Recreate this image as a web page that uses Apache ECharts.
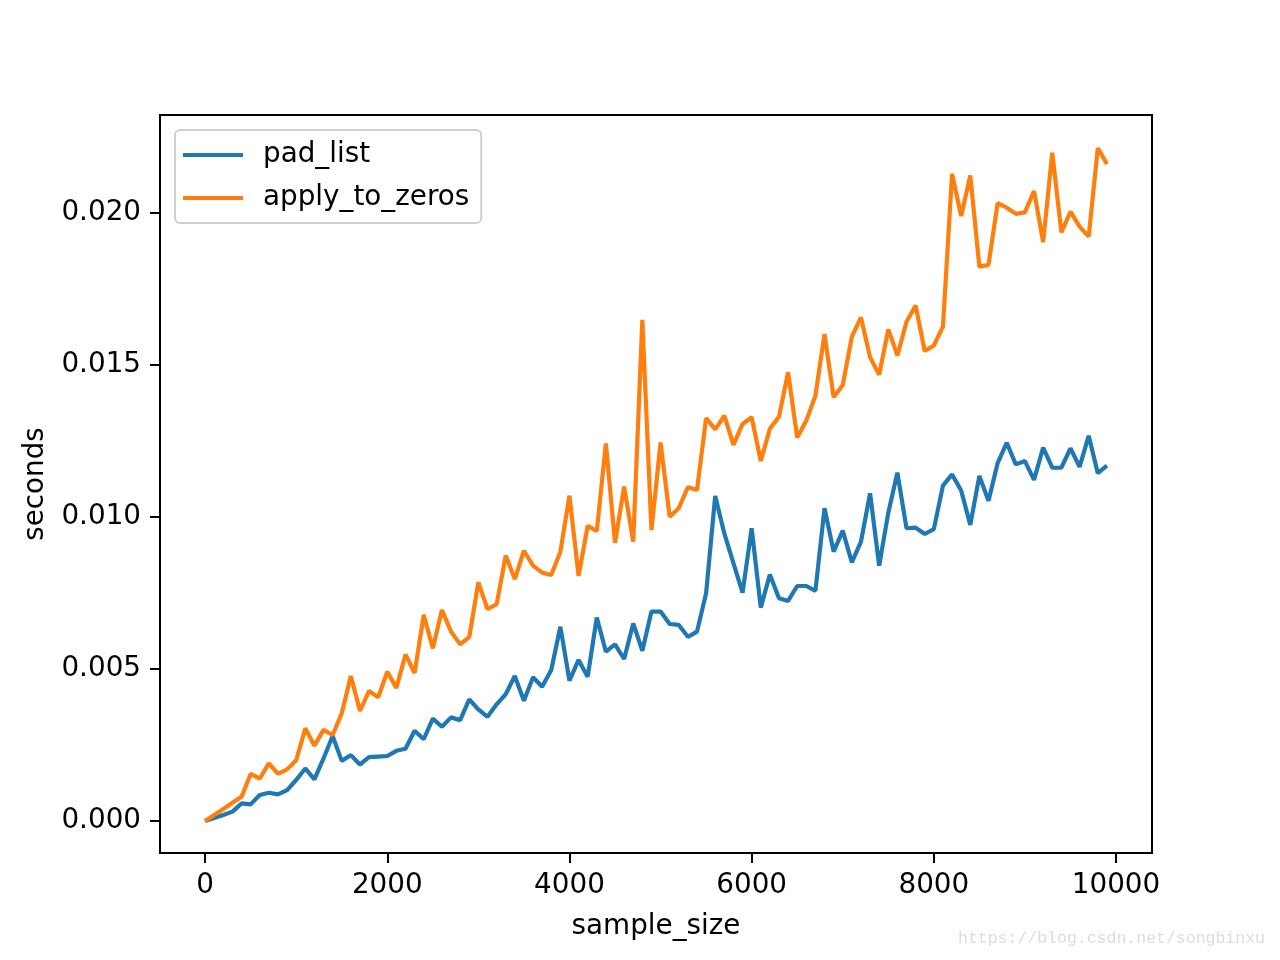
<!DOCTYPE html>
<html>
<head>
<meta charset="utf-8">
<script src="https://cdn.jsdelivr.net/npm/echarts@6/dist/echarts.min.js"></script>
<style>
  html, body { margin: 0; padding: 0; background: #fff; }
  #chart { width: 1280px; height: 960px; }
</style>
</head>
<body>
<div id="chart"></div>
<script>
// sample sizes (x)
const sampleSizes = [
  0, 100, 200, 300, 400, 500, 600, 700, 800, 900,
  1000, 1100, 1200, 1300, 1400, 1500, 1600, 1700, 1800, 1900,
  2000, 2100, 2200, 2300, 2400, 2500, 2600, 2700, 2800, 2900,
  3000, 3100, 3200, 3300, 3400, 3500, 3600, 3700, 3800, 3900,
  4000, 4100, 4200, 4300, 4400, 4500, 4600, 4700, 4800, 4900,
  5000, 5100, 5200, 5300, 5400, 5500, 5600, 5700, 5800, 5900,
  6000, 6100, 6200, 6300, 6400, 6500, 6600, 6700, 6800, 6900,
  7000, 7100, 7200, 7300, 7400, 7500, 7600, 7700, 7800, 7900,
  8000, 8100, 8200, 8300, 8400, 8500, 8600, 8700, 8800, 8900,
  9000, 9100, 9200, 9300, 9400, 9500, 9600, 9700, 9800, 9900
];

// pad_list timings (seconds)
const padList = [
  0.0000, 0.0001, 0.0002, 0.00031, 0.00058, 0.00055, 0.00086, 0.00093, 0.00088, 0.00102,
  0.00135, 0.00173, 0.00137, 0.00206, 0.0028, 0.00198, 0.00217, 0.00186, 0.0021, 0.00212,
  0.00214, 0.00231, 0.00238, 0.00297, 0.00269, 0.00337, 0.0031, 0.00341, 0.00332, 0.004,
  0.00367, 0.00343, 0.00384, 0.00417, 0.00477, 0.00396, 0.00473, 0.00442, 0.00497, 0.00639,
  0.00462, 0.0053, 0.00475, 0.00669, 0.00557, 0.00581, 0.00533, 0.0065, 0.0056, 0.00689,
  0.00689, 0.00648, 0.00645, 0.00606, 0.00623, 0.00749, 0.01069, 0.00946, 0.00848, 0.00751,
  0.00963, 0.00702, 0.00811, 0.00733, 0.00724, 0.00773, 0.00773, 0.00757, 0.01029, 0.00886,
  0.00955, 0.00851, 0.00919, 0.01078, 0.0084, 0.01014, 0.01146, 0.00963, 0.00965, 0.00944,
  0.0096, 0.01103, 0.0114, 0.01087, 0.00974, 0.01135, 0.01053, 0.01177, 0.01244, 0.01173,
  0.01184, 0.01122, 0.01228, 0.01162, 0.01162, 0.01226, 0.01165, 0.01267, 0.01144, 0.01169
];

// apply_to_zeros timings (seconds)
const applyToZeros = [
  0.0000, 0.0002, 0.0004, 0.0006, 0.0008, 0.00155, 0.0014, 0.0019, 0.00155, 0.0017,
  0.002, 0.00305, 0.00248, 0.003, 0.00283, 0.00354, 0.00477, 0.00362, 0.00428, 0.00407,
  0.00491, 0.00438, 0.00548, 0.00487, 0.00678, 0.00568, 0.00694, 0.00623, 0.00581, 0.00606,
  0.00785, 0.00697, 0.00713, 0.00873, 0.00796, 0.00889, 0.0084, 0.00817, 0.00809, 0.00886,
  0.0107, 0.00806, 0.00971, 0.00954, 0.01242, 0.00915, 0.011, 0.00919, 0.01648, 0.00957,
  0.01245, 0.01001, 0.01029, 0.01098, 0.01089, 0.01325, 0.01288, 0.01333, 0.01237, 0.01306,
  0.01328, 0.01184, 0.0129, 0.0133, 0.01476, 0.01261, 0.01317, 0.01399, 0.01602, 0.01394,
  0.01434, 0.01593, 0.01656, 0.01525, 0.01468, 0.01617, 0.01531, 0.01642, 0.01695, 0.01546,
  0.01564, 0.01626, 0.02128, 0.0199, 0.02123, 0.01823, 0.01829, 0.02032, 0.02017, 0.01997,
  0.02002, 0.02072, 0.01904, 0.02198, 0.01936, 0.02004, 0.01955, 0.01922, 0.02213, 0.02161
];

// tick labels
const xTicks = [0, 2000, 4000, 6000, 8000, 10000];
const yTicks = [0, 0.005, 0.010, 0.015, 0.020];

const font = 'DejaVu Sans';
const fs = 27.8;

const chart = echarts.init(document.getElementById('chart'));

const option = {
  animation: false,
  backgroundColor: '#fff',
  textStyle: { fontFamily: font },
  grid: {
    left: 160, right: 128, top: 115, bottom: 107,
    show: true, borderColor: '#000', borderWidth: 2, backgroundColor: 'transparent'
  },
  legend: {
    orient: 'vertical',
    left: 175, top: 130,
    padding: [10, 12, 10, 8],
    itemGap: 13,
    itemWidth: 60, itemHeight: 4,
    icon: 'rect',
    backgroundColor: '#fff',
    borderColor: '#d0d0d0', borderWidth: 2, borderRadius: 5,
    textStyle: { fontFamily: font, fontSize: fs, color: '#000', lineHeight: 30, padding: [0, 0, 0, 15] },
    data: ['pad_list', 'apply_to_zeros']
  },
  xAxis: {
    type: 'value',
    min: -495, max: 10395,
    name: 'sample_size',
    nameLocation: 'middle',
    nameGap: 60,
    nameTextStyle: { fontFamily: font, fontSize: fs, color: '#000' },
    axisLine: { show: true, onZero: false, lineStyle: { color: '#000', width: 2 } },
    axisTick: { show: true, inside: false, length: 10, lineStyle: { color: '#000', width: 2 }, customValues: xTicks },
    axisLabel: {
      fontFamily: font, fontSize: fs, color: '#000', margin: 19, customValues: xTicks,
      formatter: v => String(v)
    },
    splitLine: { show: false }
  },
  yAxis: {
    type: 'value',
    min: -0.00105, max: 0.02322,
    name: 'seconds',
    nameLocation: 'middle',
    nameGap: 110,
    nameRotate: 90,
    nameTextStyle: { fontFamily: font, fontSize: fs, color: '#000' },
    axisLine: { show: true, onZero: false, lineStyle: { color: '#000', width: 2 } },
    axisTick: { show: true, inside: false, length: 10, lineStyle: { color: '#000', width: 2 }, customValues: yTicks },
    axisLabel: {
      fontFamily: font, fontSize: fs, color: '#000', margin: 19, customValues: yTicks,
      formatter: v => v.toFixed(3)
    },
    splitLine: { show: false }
  },
  graphic: [{
    type: 'text',
    left: 958, top: 930,
    style: {
      text: 'https://blog.csdn.net/songbinxu',
      font: '16.5px "Liberation Mono"',
      fill: '#dcdcdc'
    }
  }],
  series: [
    {
      name: 'pad_list',
      type: 'line',
      showSymbol: false,
      color: '#1f77b4',
      lineStyle: { width: 4.2, color: '#1f77b4' },
      data: sampleSizes.map((x, i) => [x, padList[i]])
    },
    {
      name: 'apply_to_zeros',
      type: 'line',
      showSymbol: false,
      color: '#ff7f0e',
      lineStyle: { width: 4.2, color: '#ff7f0e' },
      data: sampleSizes.map((x, i) => [x, applyToZeros[i]])
    }
  ]
};

chart.setOption(option);
</script>
</body>
</html>
